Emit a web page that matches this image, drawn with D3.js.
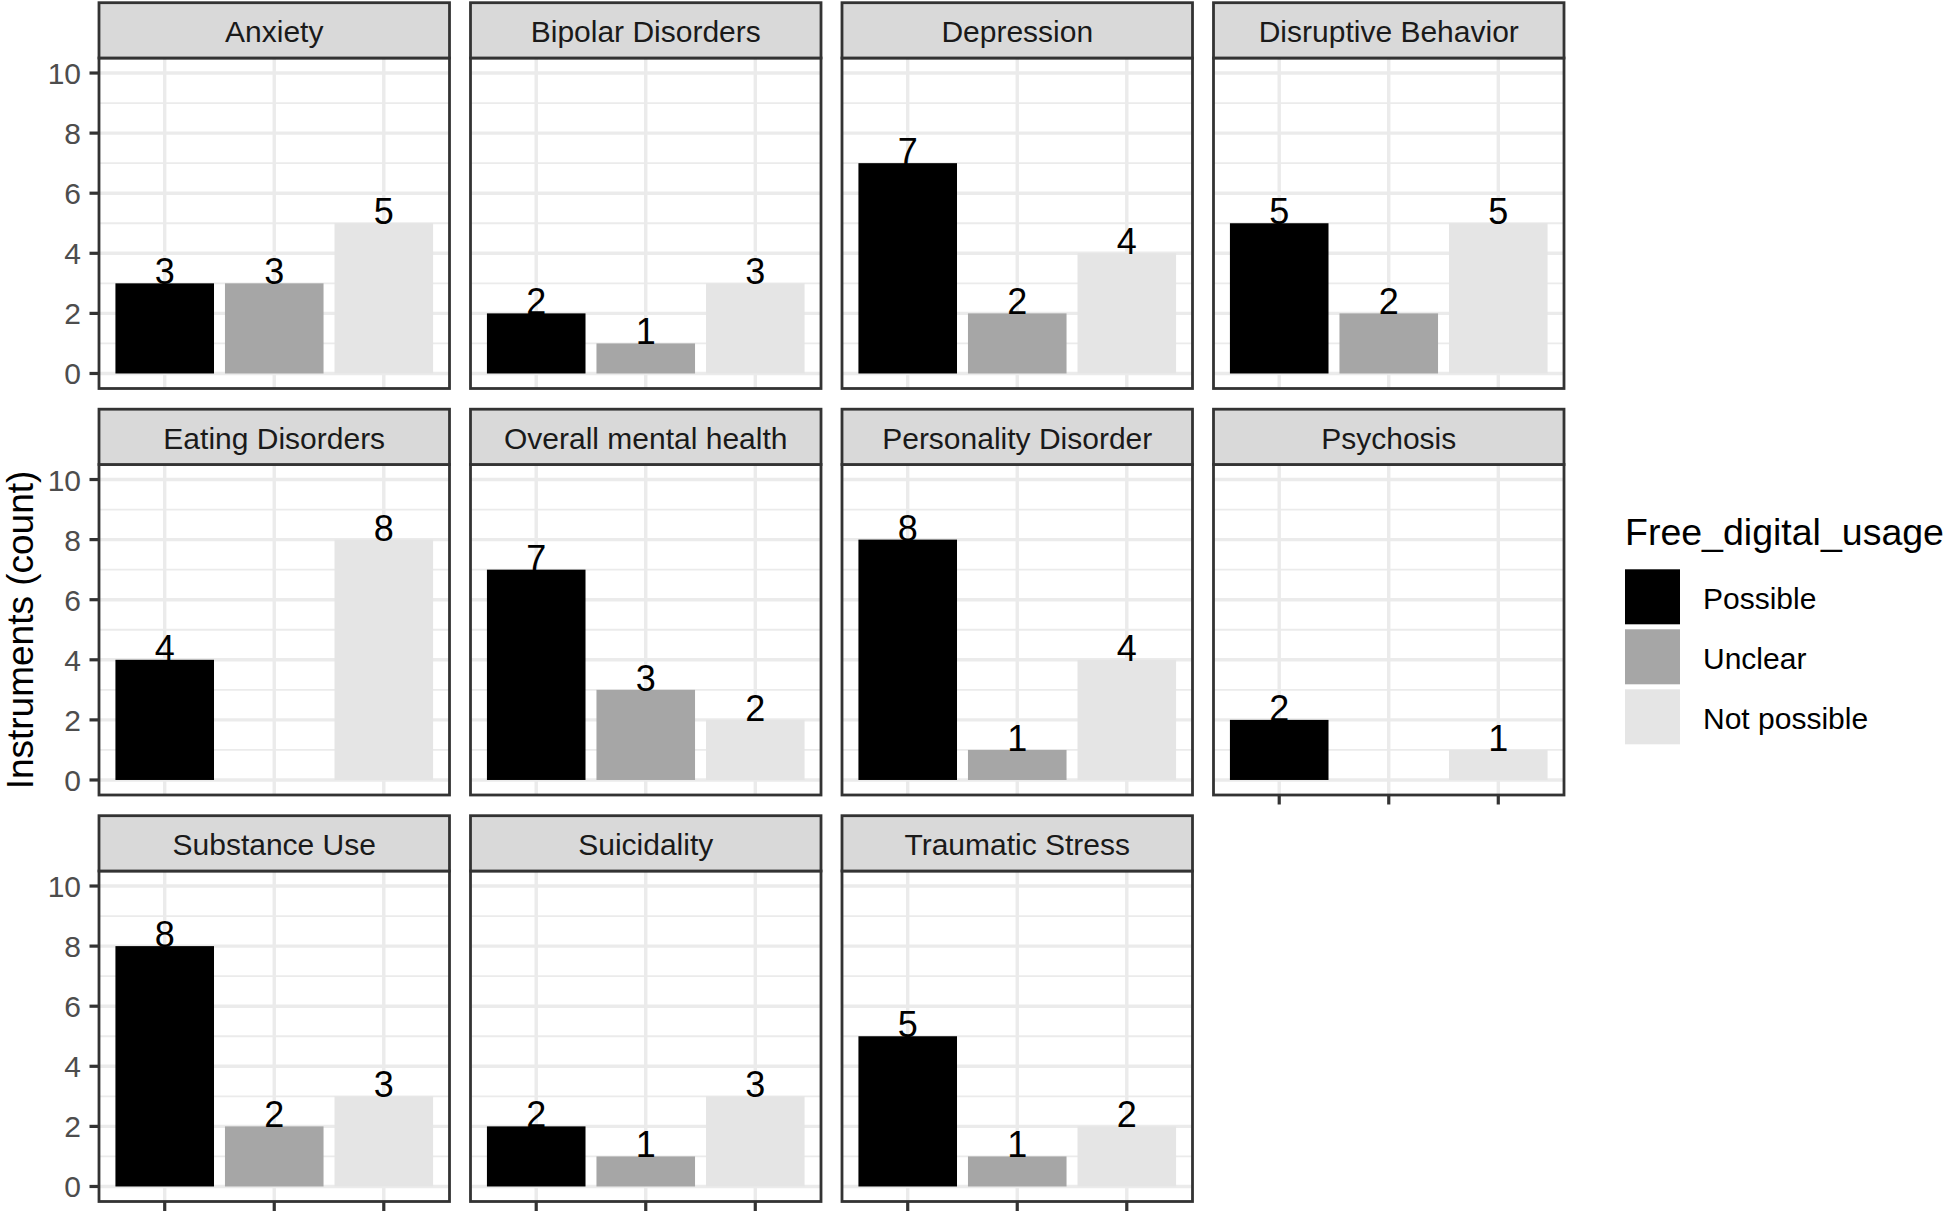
<!DOCTYPE html>
<html>
<head>
<meta charset="utf-8">
<script src="https://cdn.jsdelivr.net/npm/d3@7"></script>
<style>
  html, body { margin: 0; padding: 0; background: #ffffff; }
  svg { display: block; font-family: "Liberation Sans", Arial, sans-serif; }
</style>
</head>
<body>
<svg id="chart" width="1952" height="1212"></svg>
<script>
// ---- data ----
const panels = ["Anxiety", "Bipolar Disorders", "Depression", "Disruptive Behavior",
  "Eating Disorders", "Overall mental health", "Personality Disorder", "Psychosis",
  "Substance Use", "Suicidality", "Traumatic Stress"];
const categories = ["Possible", "Unclear", "Not possible"];
const possibleCounts = [3, 2, 7, 5, 4, 7, 8, 2, 8, 2, 5];
const unclearCounts = [3, 1, 2, 2, null, 3, 1, null, 2, 1, 1];
const notPossibleCounts = [5, 3, 4, 5, 8, 2, 4, 1, 3, 3, 2];
const yTicks = [0, 2, 4, 6, 8, 10];
const yMinorTicks = [1, 3, 5, 7, 9];
const fillColors = ["#000000", "#A6A6A6", "#E5E5E5"];
const legendTitle = "Free_digital_usage";
const yTitle = "Instruments (count)";

// ---- layout ----
const svg = d3.select("#chart");
const nCols = 4;
const panelW = 350.5, gapX = 21, left0 = 99;
const top0 = 2.7, stripH = 55.3, panelH = 330.5, rowPitch = 406.5;

const series = [possibleCounts, unclearCounts, notPossibleCounts];

const y = d3.scaleLinear().domain([-0.5, 10.5]);
const color = d3.scaleOrdinal().domain(categories).range(fillColors);

panels.forEach((name, i) => {
  const col = i % nCols, row = Math.floor(i / nCols);
  const x0 = left0 + col * (panelW + gapX);
  const stripTop = top0 + row * rowPitch;
  const pTop = stripTop + stripH;
  const pBot = pTop + panelH;

  const x = d3.scaleBand().domain(categories).range([x0, x0 + panelW])
    .paddingInner(0.1).paddingOuter(0.15);
  const yy = y.copy().range([pBot, pTop]);

  const g = svg.append("g");
  g.append("rect").attr("x", x0).attr("y", pTop).attr("width", panelW).attr("height", panelH)
    .attr("fill", "#ffffff");

  // minor grid
  g.selectAll(".minor").data(yMinorTicks).join("line")
    .attr("x1", x0).attr("x2", x0 + panelW)
    .attr("y1", d => yy(d)).attr("y2", d => yy(d))
    .attr("stroke", "#EBEBEB").attr("stroke-width", 1.8);
  // major grid
  g.selectAll(".major").data(yTicks).join("line")
    .attr("x1", x0).attr("x2", x0 + panelW)
    .attr("y1", d => yy(d)).attr("y2", d => yy(d))
    .attr("stroke", "#EBEBEB").attr("stroke-width", 3.4);
  g.selectAll(".vmajor").data(categories).join("line")
    .attr("x1", d => x(d) + x.bandwidth() / 2).attr("x2", d => x(d) + x.bandwidth() / 2)
    .attr("y1", pTop).attr("y2", pBot)
    .attr("stroke", "#EBEBEB").attr("stroke-width", 3.4);

  const vals = categories.map((c, k) => ({ cat: c, v: series[k][i] })).filter(d => d.v != null);

  g.selectAll(".bar").data(vals).join("rect")
    .attr("x", d => x(d.cat)).attr("width", x.bandwidth())
    .attr("y", d => yy(d.v)).attr("height", d => yy(0) - yy(d.v))
    .attr("fill", d => color(d.cat));

  g.selectAll(".lbl").data(vals).join("text")
    .attr("x", d => x(d.cat) + x.bandwidth() / 2)
    .attr("y", d => yy(d.v) + 1)
    .attr("text-anchor", "middle")
    .attr("font-size", 36).attr("fill", "#000000")
    .text(d => d.v);

  // border
  g.append("rect").attr("x", x0).attr("y", pTop).attr("width", panelW).attr("height", panelH)
    .attr("fill", "none").attr("stroke", "#333333").attr("stroke-width", 2.8);

  // strip
  g.append("rect").attr("x", x0).attr("y", stripTop).attr("width", panelW).attr("height", stripH)
    .attr("fill", "#D9D9D9").attr("stroke", "#333333").attr("stroke-width", 2.8);
  g.append("text").attr("x", x0 + panelW / 2).attr("y", stripTop + 39.5)
    .attr("text-anchor", "middle").attr("font-size", 30).attr("fill", "#1A1A1A")
    .text(name);

  // y axis on first column
  if (col === 0) {
    g.selectAll(".yt").data(yTicks).join("line")
      .attr("x1", x0 - 9.5).attr("x2", x0)
      .attr("y1", d => yy(d)).attr("y2", d => yy(d))
      .attr("stroke", "#333333").attr("stroke-width", 3.2);
    g.selectAll(".ytl").data(yTicks).join("text")
      .attr("x", x0 - 18).attr("y", d => yy(d) + 11)
      .attr("text-anchor", "end").attr("font-size", 30).attr("fill", "#4D4D4D")
      .text(d => d);
  }
  // x axis ticks on bottom panel of each column
  const below = i + nCols;
  if (below >= panels.length) {
    g.selectAll(".xt").data(categories).join("line")
      .attr("x1", d => x(d) + x.bandwidth() / 2).attr("x2", d => x(d) + x.bandwidth() / 2)
      .attr("y1", pBot).attr("y2", pBot + 9.5)
      .attr("stroke", "#333333").attr("stroke-width", 3.2);
  }
});

// y axis title
svg.append("text")
  .attr("transform", "translate(33,630) rotate(-90)")
  .attr("text-anchor", "middle").attr("font-size", 37).attr("fill", "#000000")
  .text(yTitle);

// legend
const lg = svg.append("g");
lg.append("text").attr("x", 1625).attr("y", 545).attr("font-size", 37.5)
  .attr("fill", "#000000").text(legendTitle);
categories.forEach((c, k) => {
  const ky = 569.3 + k * 60;
  lg.append("rect").attr("x", 1625).attr("y", ky).attr("width", 55).attr("height", 55)
    .attr("fill", color(c));
  lg.append("text").attr("x", 1703).attr("y", ky + 27.5 + 12)
    .attr("font-size", 30).attr("fill", "#000000").text(c);
});
</script>
</body>
</html>
